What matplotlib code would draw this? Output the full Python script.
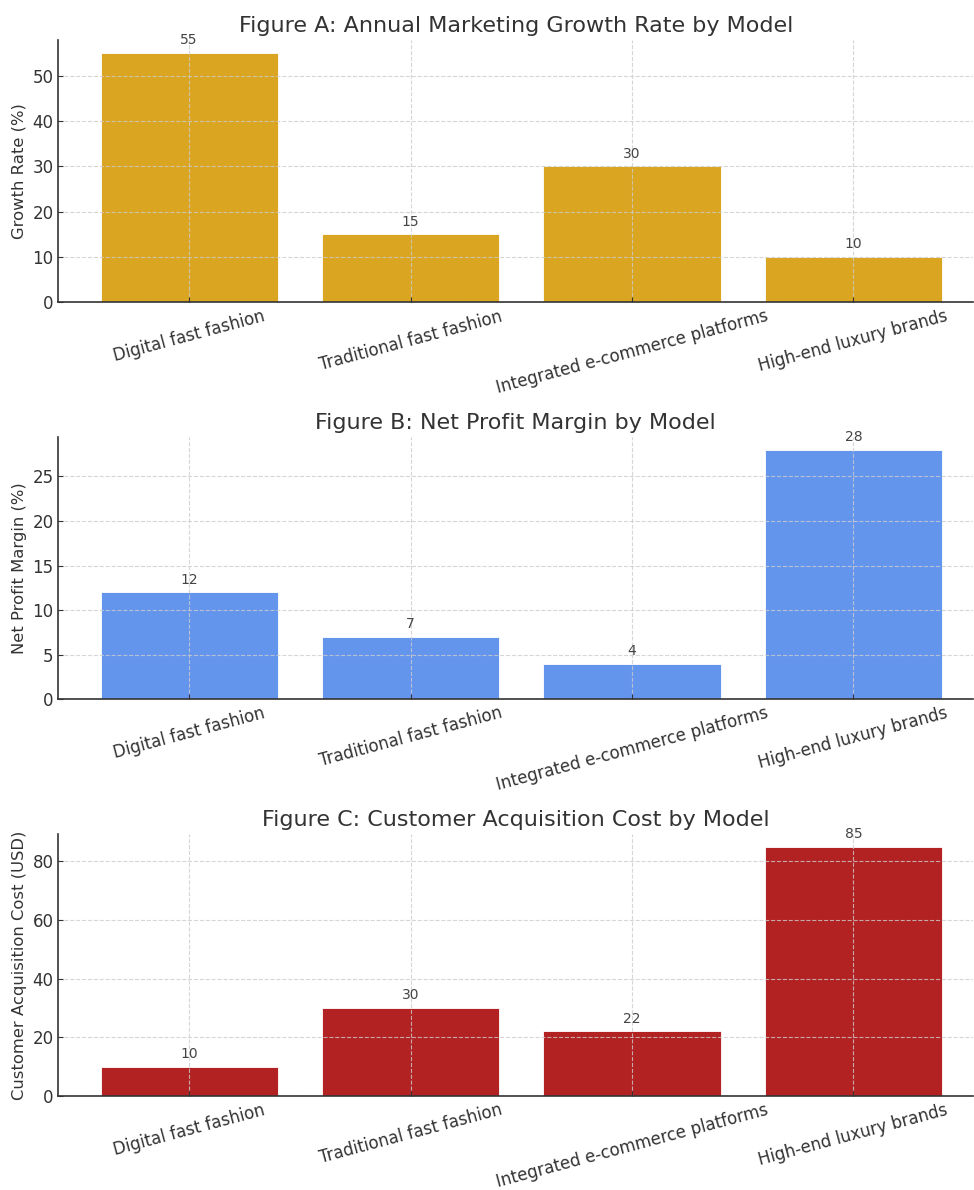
import matplotlib
matplotlib.use("Agg")
import matplotlib.pyplot as plt

models = ["Digital fast fashion", "Traditional fast fashion",
          "Integrated e-commerce platforms", "High-end luxury brands"]
growth_rate = [55, 15, 30, 10]
profit_margin = [12, 7, 4, 28]
acquisition_cost = [10, 30, 22, 85]

panels = [
    (growth_rate, "goldenrod", "Figure A: Annual Marketing Growth Rate by Model", "Growth Rate (%)"),
    (profit_margin, "cornflowerblue", "Figure B: Net Profit Margin by Model", "Net Profit Margin (%)"),
    (acquisition_cost, "firebrick", "Figure C: Customer Acquisition Cost by Model", "Customer Acquisition Cost (USD)"),
]

text_color = "#333333"
fig, axes = plt.subplots(3, 1, figsize=(9.74, 11.9), dpi=100)
fig.subplots_adjust(left=0.06, right=0.999, top=0.966, bottom=0.079, hspace=0.515)

for ax, (values, color, title, ylabel) in zip(axes, panels):
    x = range(len(models))
    bars = ax.bar(x, values, width=0.8, color=color, edgecolor="white", linewidth=0.6)
    ax.set_title(title, fontsize=16, color=text_color)
    ax.set_ylabel(ylabel, fontsize=11.8, color=text_color)
    ax.set_xticks(list(x))
    ax.set_xticklabels(models, rotation=15, fontsize=12, color=text_color)
    ax.tick_params(axis="y", labelsize=12, labelcolor=text_color)
    ax.tick_params(colors=text_color, direction="in")
    ax.set_xlim(-0.59, 3.54)
    ax.grid(True, linestyle="--", color="#cccccc", linewidth=0.8, alpha=0.8)
    for side in ("top", "right"):
        ax.spines[side].set_visible(False)
    for side in ("left", "bottom"):
        ax.spines[side].set_color(text_color)
        ax.spines[side].set_linewidth(1.2)
    for bar, v in zip(bars, values):
        ax.annotate(f"{v}", (bar.get_x() + bar.get_width() / 2, v),
                    xytext=(0, 4), textcoords="offset points",
                    ha="center", va="bottom", fontsize=10, color="#444444")

fig.savefig("out.png", dpi=100)
